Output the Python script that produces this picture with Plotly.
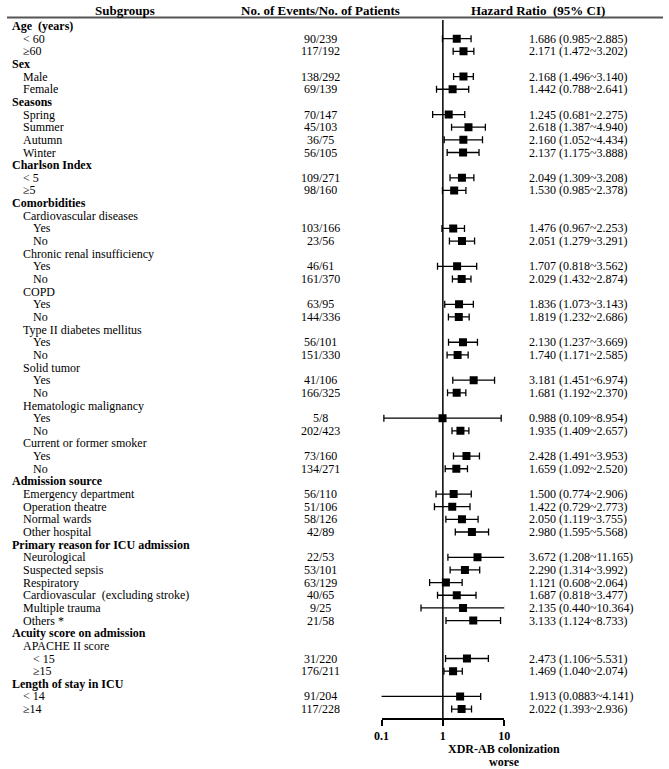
import plotly.graph_objects as go

# ---------------- data ----------------
subgroups = [
    "Age  (years)", "< 60", "≥60",
    "Sex", "Male", "Female",
    "Seasons", "Spring", "Summer", "Autumn", "Winter",
    "Charlson Index", "< 5", "≥5",
    "Comorbidities",
    "Cardiovascular diseases", "Yes", "No",
    "Chronic renal insufficiency", "Yes", "No",
    "COPD", "Yes", "No",
    "Type II diabetes mellitus", "Yes", "No",
    "Solid tumor", "Yes", "No",
    "Hematologic malignancy", "Yes", "No",
    "Current or former smoker", "Yes", "No",
    "Admission source", "Emergency department", "Operation theatre", "Normal wards", "Other hospital",
    "Primary reason for ICU admission", "Neurological", "Suspected sepsis", "Respiratory",
    "Cardiovascular  (excluding stroke)", "Multiple trauma", "Others *",
    "Acuity score on admission", "APACHE II score", "< 15", "≥15",
    "Length of stay in ICU", "< 14", "≥14",
]
# hierarchy level: 0 = section heading, 1 = item, 2 = sub-item
levels = [
    0, 1, 1,
    0, 1, 1,
    0, 1, 1, 1, 1,
    0, 1, 1,
    0,
    1, 2, 2,
    1, 2, 2,
    1, 2, 2,
    1, 2, 2,
    1, 2, 2,
    1, 2, 2,
    1, 2, 2,
    0, 1, 1, 1, 1,
    0, 1, 1, 1, 1, 1, 1,
    0, 1, 2, 2,
    0, 1, 1,
]
events = [
    None, "90/239", "117/192",
    None, "138/292", "69/139",
    None, "70/147", "45/103", "36/75", "56/105",
    None, "109/271", "98/160",
    None,
    None, "103/166", "23/56",
    None, "46/61", "161/370",
    None, "63/95", "144/336",
    None, "56/101", "151/330",
    None, "41/106", "166/325",
    None, "5/8", "202/423",
    None, "73/160", "134/271",
    None, "56/110", "51/106", "58/126", "42/89",
    None, "22/53", "53/101", "63/129", "40/65", "9/25", "21/58",
    None, None, "31/220", "176/211",
    None, "91/204", "117/228",
]
hr = [
    None, 1.686, 2.171,
    None, 2.168, 1.442,
    None, 1.245, 2.618, 2.160, 2.137,
    None, 2.049, 1.530,
    None,
    None, 1.476, 2.051,
    None, 1.707, 2.029,
    None, 1.836, 1.819,
    None, 2.130, 1.740,
    None, 3.181, 1.681,
    None, 0.988, 1.935,
    None, 2.428, 1.659,
    None, 1.500, 1.422, 2.050, 2.980,
    None, 3.672, 2.290, 1.121, 1.687, 2.135, 3.133,
    None, None, 2.473, 1.469,
    None, 1.913, 2.022,
]
ci_low = [
    None, 0.985, 1.472,
    None, 1.496, 0.788,
    None, 0.681, 1.387, 1.052, 1.175,
    None, 1.309, 0.985,
    None,
    None, 0.967, 1.279,
    None, 0.818, 1.432,
    None, 1.073, 1.232,
    None, 1.237, 1.171,
    None, 1.451, 1.192,
    None, 0.109, 1.409,
    None, 1.491, 1.092,
    None, 0.774, 0.729, 1.119, 1.595,
    None, 1.208, 1.314, 0.608, 0.818, 0.440, 1.124,
    None, None, 1.106, 1.040,
    None, 0.0883, 1.393,
]
ci_high = [
    None, 2.885, 3.202,
    None, 3.140, 2.641,
    None, 2.275, 4.940, 4.434, 3.888,
    None, 3.208, 2.378,
    None,
    None, 2.253, 3.291,
    None, 3.562, 2.874,
    None, 3.143, 2.686,
    None, 3.669, 2.585,
    None, 6.974, 2.370,
    None, 8.954, 2.657,
    None, 3.953, 2.520,
    None, 2.906, 2.773, 3.755, 5.568,
    None, 11.165, 3.992, 2.064, 3.477, 10.364, 8.733,
    None, None, 5.531, 2.074,
    None, 4.141, 2.936,
]
tick_vals = [0.1, 1, 10]
tick_text = ["0.1", "1", "10"]
col_titles = ["Subgroups", "No. of Events/No. of Patients", "Hazard Ratio  (95% CI)"]
axis_title = ["XDR-AB colonization", "worse"]

# ---------------- layout constants ----------------
W, H = 669, 769
FONT = "Liberation Serif"
FS = 12
n = len(subgroups)
rows = list(range(1, n + 1))
ROW_PX = 12.65
FIRST_ROW_PX = 26
TOP_PX, BOT_PX = 18, 718
indent_px = {0: 3, 1: 14, 2: 24}


def fmt(v):
    return f"{v:.3f}" if v >= 0.1 else f"{v:.4f}"


def py_to_row(p):
    return 1 + (p - FIRST_ROW_PX) / ROW_PX


idx = [i for i in range(n) if hr[i] is not None]
xs = [hr[i] for i in idx]
ys = [rows[i] for i in idx]
eplus = [ci_high[i] - hr[i] for i in idx]
eminus = [hr[i] - ci_low[i] for i in idx]

fig = go.Figure()
fig.add_trace(go.Scatter(
    x=xs, y=ys, mode="markers",
    marker=dict(symbol="square", size=8, color="black"),
    error_x=dict(type="data", symmetric=False, array=eplus, arrayminus=eminus,
                 color="black", thickness=1.3, width=3.5),
    showlegend=False, hoverinfo="skip",
))

ann = []
# column titles
for t, cx in zip(col_titles, [120, 320, 542]):
    ann.append(dict(x=cx / W, y=1 - 10 / H, xref="paper", yref="paper",
                    text=f"<b>{t}</b>", showarrow=False, xanchor="center", yanchor="middle",
                    font=dict(family=FONT, size=13, color="black")))
for i in range(n):
    lab = subgroups[i]
    txt = f"<b>{lab}</b>" if levels[i] == 0 else lab
    ann.append(dict(x=indent_px[levels[i]] / W, y=rows[i], xref="paper", yref="y",
                    text=txt, showarrow=False, xanchor="left", yanchor="middle",
                    font=dict(family=FONT, size=FS, color="black")))
    if events[i] is not None:
        ann.append(dict(x=320 / W, y=rows[i], xref="paper", yref="y",
                        text=events[i], showarrow=False, xanchor="center", yanchor="middle",
                        font=dict(family=FONT, size=FS, color="black")))
    if hr[i] is not None:
        ann.append(dict(x=530 / W, y=rows[i], xref="paper", yref="y",
                        text=f"{fmt(hr[i])} ({fmt(ci_low[i])}~{fmt(ci_high[i])})",
                        showarrow=False, xanchor="left", yanchor="middle",
                        font=dict(family=FONT, size=FS, color="black")))
# axis title under the axis, centred on the "10" tick (log axis -> x is log10 value)
ann.append(dict(x=1, y=1 - 749 / H, xref="x", yref="paper",
                text=f"<b>{axis_title[0]}</b>", showarrow=False, xanchor="center", yanchor="middle",
                font=dict(family=FONT, size=FS, color="black")))
ann.append(dict(x=1, y=1 - 762 / H, xref="x", yref="paper",
                text=f"<b>{axis_title[1]}</b>", showarrow=False, xanchor="center", yanchor="middle",
                font=dict(family=FONT, size=FS, color="black")))

shapes = [
    dict(type="line", xref="paper", yref="paper", x0=0, x1=1,
         y0=1 - 17.5 / H, y1=1 - 17.5 / H, line=dict(color="#555555", width=2)),
    dict(type="line", xref="x", yref="y domain", x0=1, x1=1, y0=0, y1=0.997,
         line=dict(color="black", width=1.5)),
]

fig.update_layout(
    width=W, height=H,
    margin=dict(l=0, r=0, t=0, b=0),
    paper_bgcolor="white", plot_bgcolor="white",
    annotations=ann, shapes=shapes,
    xaxis=dict(type="log", range=[-1, 1], domain=[382 / W, 507 / W],
               showgrid=False, zeroline=False, showline=True, linecolor="black", linewidth=1.5,
               ticks="outside", ticklen=6, tickwidth=1.5, tickcolor="black",
               tickvals=tick_vals, ticktext=[f"<b>{t}</b>" for t in tick_text],
               tickfont=dict(family=FONT, size=FS, color="black")),
    yaxis=dict(range=[py_to_row(BOT_PX), py_to_row(TOP_PX)],
               domain=[(H - BOT_PX) / H, (H - TOP_PX) / H],
               visible=False, showgrid=False, zeroline=False),
)

fig.write_html(
    "out.html",
    config={"displayModeBar": False},
    post_script="document.body.style.margin='0px';document.body.style.overflow='hidden';",
)
